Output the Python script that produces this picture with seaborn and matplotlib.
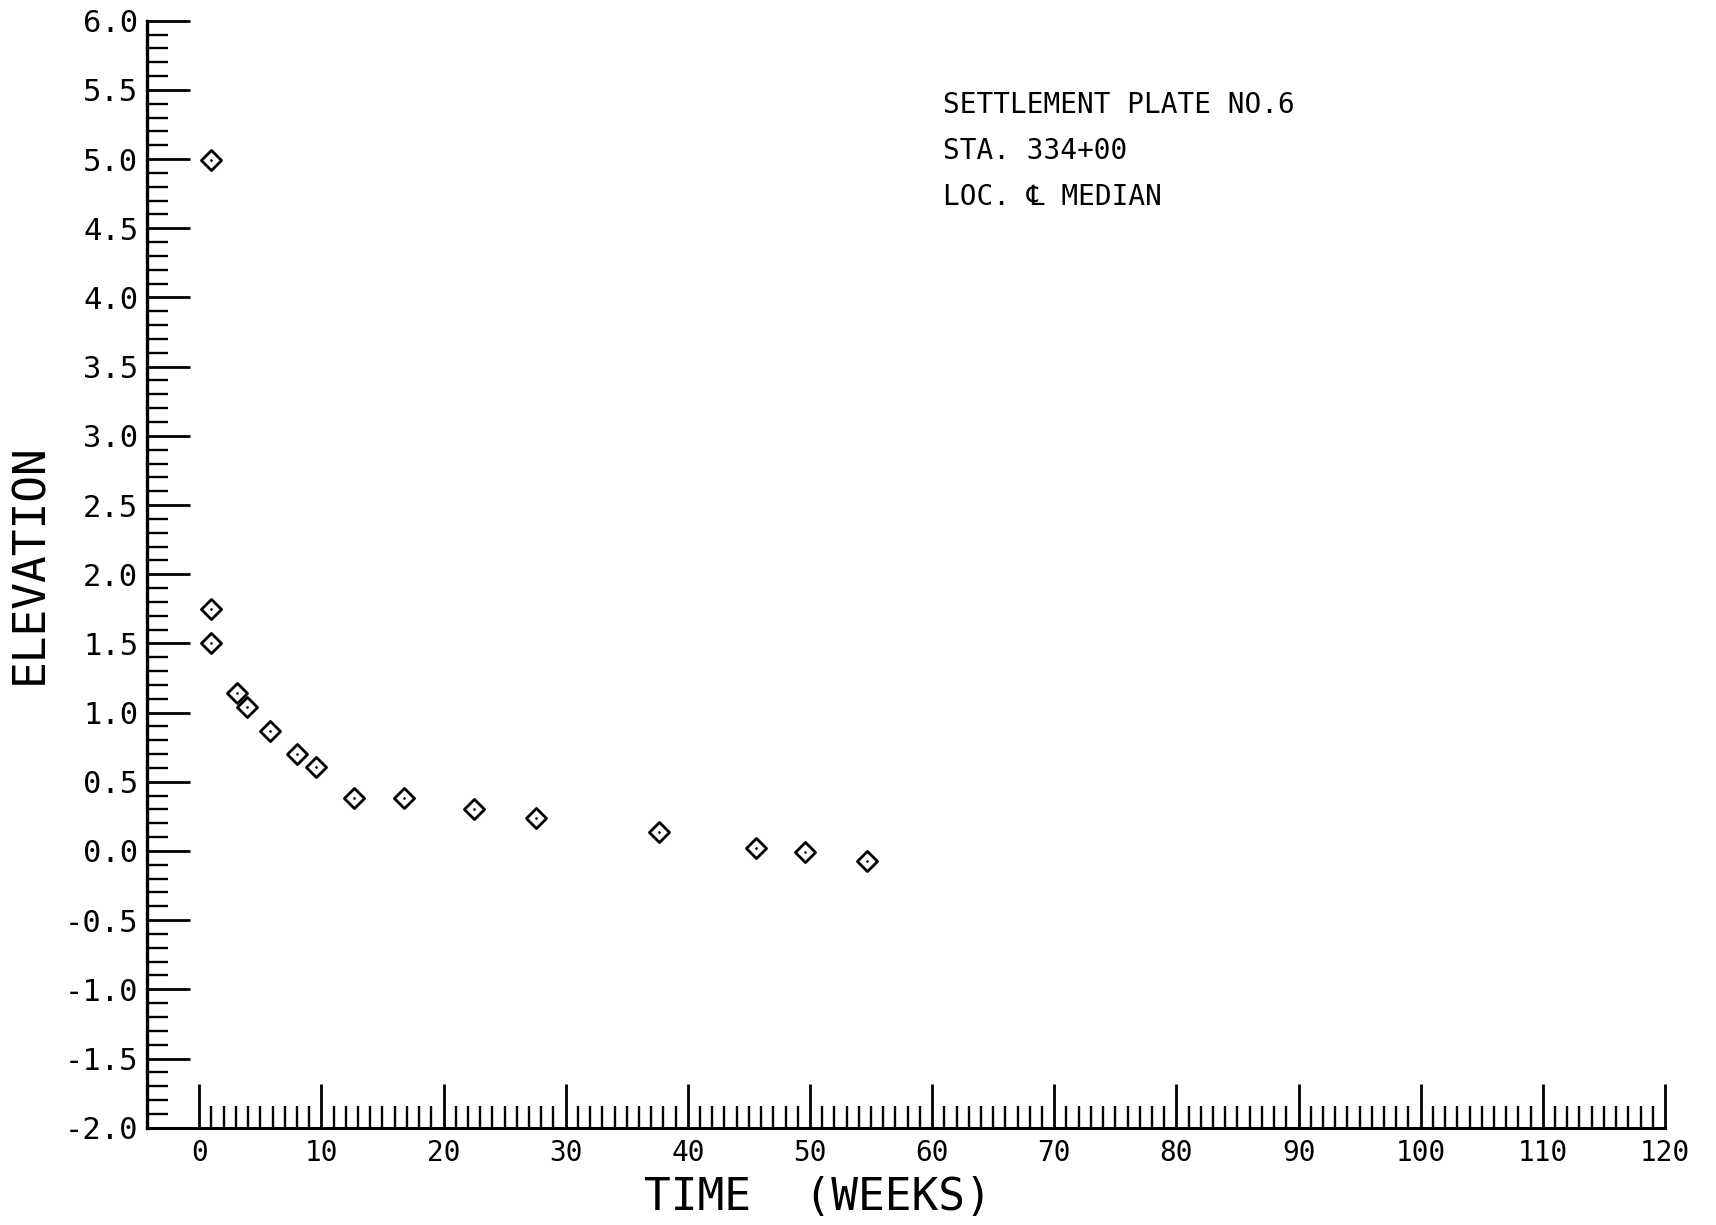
import numpy as np
import pandas as pd
import matplotlib
matplotlib.use("Agg")
import matplotlib.pyplot as plt
import seaborn as sns
from matplotlib.ticker import MultipleLocator, FixedLocator, FormatStrFormatter

# settlement readings
weeks = [1.0, 1.0, 1.0, 3.1, 3.9, 5.8, 8.0, 9.6, 12.7, 16.8, 22.5, 27.6, 37.6, 45.6, 49.6, 54.7]
elevation = [4.99, 1.75, 1.50, 1.14, 1.04, 0.87, 0.70, 0.61, 0.38, 0.38, 0.30, 0.24, 0.14, 0.02, -0.01, -0.07]

x_ticks = list(range(0, 121, 10))
x_minor = list(range(0, 121, 1))
y_ticks = [-2.0, -1.5, -1.0, -0.5, 0.0, 0.5, 1.0, 1.5, 2.0, 2.5, 3.0, 3.5, 4.0, 4.5, 5.0, 5.5, 6.0]

note_lines = ["SETTLEMENT PLATE NO.6", "STA. 334+00", "LOC. \u2104 MEDIAN"]

df = pd.DataFrame({"weeks": weeks, "elevation": elevation})

sns.set_style("ticks")
mono = ["DejaVu Sans Mono", "DejaVu Sans"]
plt.rcParams["font.family"] = mono
plt.rcParams["text.color"] = "black"
plt.rcParams["xtick.labelcolor"] = "black"
plt.rcParams["ytick.labelcolor"] = "black"

fig = plt.figure(figsize=(17.16, 12.25), dpi=100)
ax = fig.add_axes([146.7 / 1716, 1 - 1127.7 / 1225, (1665 - 146.7) / 1716, 1107 / 1225])

sns.scatterplot(data=df, x="weeks", y="elevation", ax=ax, marker="D", s=105,
                facecolor="white", edgecolor="black", linewidth=2.0, zorder=3)
# little dot in the middle of each diamond
ax.scatter(df["weeks"], df["elevation"], marker=".", s=3, color="black", zorder=4)

ax.set_xlim(-4.3, 120)
ax.set_ylim(-2.0, 6.0)

ax.set_xticks(x_ticks)
ax.xaxis.set_minor_locator(FixedLocator(x_minor))
ax.set_yticks(y_ticks)
ax.yaxis.set_minor_locator(MultipleLocator(0.1))
ax.yaxis.set_major_formatter(FormatStrFormatter("%.1f"))

ax.tick_params(axis="x", which="major", direction="in", length=32, width=2.0,
               labelsize=20, pad=8, color="black")
ax.tick_params(axis="x", which="minor", direction="in", length=16, width=1.7, color="black")
ax.tick_params(axis="y", which="major", direction="in", length=31, width=2.0,
               labelsize=22, pad=6, color="black")
ax.tick_params(axis="y", which="minor", direction="in", length=15, width=1.7, color="black")

for side in ["top", "right"]:
    ax.spines[side].set_visible(False)
ax.spines["left"].set_linewidth(2.4)
ax.spines["bottom"].set_linewidth(2.2)
ax.spines["left"].set_color("black")
ax.spines["bottom"].set_color("black")

ax.set_xlabel("")
ax.set_ylabel("")
ax.set_facecolor("white")

fig.text(30 / 1716, 0.54, "ELEVATION", rotation=90, ha="center", va="center", fontsize=32)
fig.text(818 / 1716, 1 - 1197 / 1225, "TIME  (WEEKS)", ha="center", va="center", fontsize=32)

for i, line in enumerate(note_lines):
    fig.text(943 / 1716, 1 - (105 + 46 * i) / 1225, line, ha="left", va="center",
             fontsize=20, family=mono)

fig.savefig("out.png", dpi=100, facecolor="white")
